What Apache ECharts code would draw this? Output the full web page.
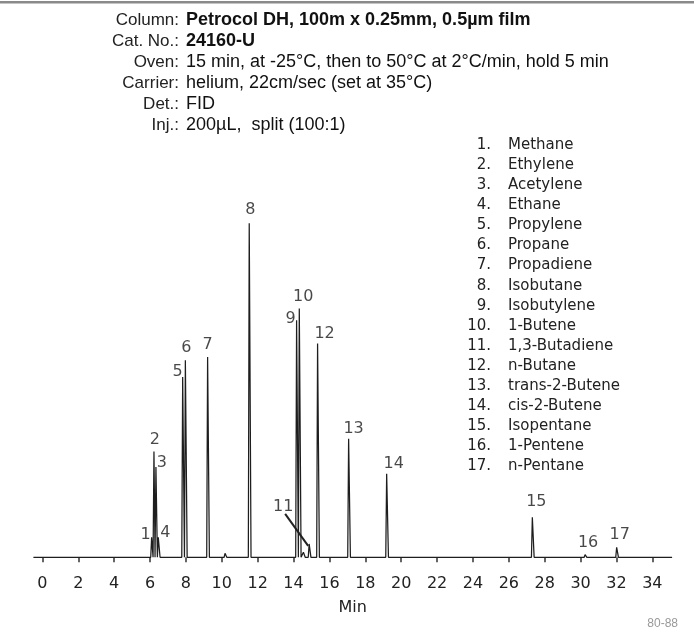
<!DOCTYPE html>
<html>
<head>
<meta charset="utf-8">
<script src="https://cdn.jsdelivr.net/npm/echarts@6/dist/echarts.min.js"></script>
<style>
  html, body { margin: 0; padding: 0; background: #fff; }
  #chart { width: 694px; height: 634px; }
</style>
</head>
<body>
<div id="chart"></div>
<script>
// peaks: number, retention time (min), relative height (isobutane = 100)
const peakNo = [1, 2, 3, 4, 5, 6, 7, 8, 9, 10, 11, 12, 13, 14, 15, 16, 17];
const retTime = [6.09, 6.22, 6.33, 6.46, 7.82, 7.97, 9.21, 11.53, 14.17, 14.32, 14.87, 15.34, 17.07, 19.19, 27.31, 30.25, 32.01];
const peakHeight = [6, 31.7, 27, 6, 54, 59, 60, 100, 71, 74.5, 4, 64, 35.5, 25, 12, 0.8, 3];
const compounds = ['Methane', 'Ethylene', 'Acetylene', 'Ethane', 'Propylene', 'Propane', 'Propadiene',
  'Isobutane', 'Isobutylene', '1-Butene', '1,3-Butadiene', 'n-Butane', 'trans-2-Butene',
  'cis-2-Butene', 'Isopentane', '1-Pentene', 'n-Pentane'];

// small unlabelled bumps on the baseline
const bumpTime = [10.18, 14.55];
const bumpHeight = [1.2, 1.5];

const tickValues = [0, 2, 4, 6, 8, 10, 12, 14, 16, 18, 20, 22, 24, 26, 28, 30, 32, 34];

const headerLabels = ['Column:', 'Cat. No.:', 'Oven:', 'Carrier:', 'Det.:', 'Inj.:'];
const headerValues = ['Petrocol DH, 100m x 0.25mm, 0.5\u00b5m film', '24160-U',
  '15 min, at -25\u00b0C, then to 50\u00b0C at 2\u00b0C/min, hold 5 min',
  'helium, 22cm/sec (set at 35\u00b0C)', 'FID', '200\u00b5L,  split (100:1)'];

// where each peak number sits relative to its peak top (px)
const labelOffset = {
  1: [-6, -2], 2: [1, -12], 3: [6, -4], 4: [7, -4], 5: [-5, -5], 6: [1, -12],
  7: [0, -12], 8: [1, -13], 9: [-6, -1], 10: [4, -12], 11: [-26, -37], 12: [7, -10],
  13: [5, -10], 14: [7, -10], 15: [4, -15], 16: [3, -12], 17: [3, -12]
};

const chartFont = 'DejaVu Sans, sans-serif';
const headFont = 'Liberation Sans, Arial, sans-serif';

// build the detector trace as narrow tailing spikes on a flat baseline
const buildTrace = () => {
  let pts = [[-0.5, 0], [35.1, 0]];
  const addPeak = (t, h) => {
    pts.push([t - 0.05, 0], [t, h], [t + 0.1, 0]);
  };
  retTime.forEach((t, i) => addPeak(t, peakHeight[i]));
  bumpTime.forEach((t, i) => addPeak(t, bumpHeight[i]));
  pts.sort((a, b) => a[0] - b[0]);
  return pts;
};

const headerGraphics = () => {
  let items = [{
    type: 'rect', shape: {x: 0, y: 1, width: 694, height: 2.5},
    style: {fill: '#8a8a8a'}
  }];
  headerLabels.forEach((lab, i) => {
    const y = 20 + i * 21;
    items.push({
      type: 'text', x: 179, y: y,
      style: {text: lab, fill: '#222', font: '17px ' + headFont, textAlign: 'right', textVerticalAlign: 'middle'}
    });
    items.push({
      type: 'text', x: 186, y: y,
      style: {
        text: headerValues[i], fill: '#111',
        font: (i < 2 ? 'bold ' : '') + '18px ' + headFont,
        textAlign: 'left', textVerticalAlign: 'middle'
      }
    });
  });
  compounds.forEach((name, i) => {
    const y = 145 + i * 20.1;
    items.push({
      type: 'text', x: 491, y: y,
      style: {text: peakNo[i] + '.', fill: '#222', font: '15px ' + chartFont, textAlign: 'right', textVerticalAlign: 'middle'}
    });
    items.push({
      type: 'text', x: 508, y: y,
      style: {text: name, fill: '#222', font: '15px ' + chartFont, textAlign: 'left', textVerticalAlign: 'middle'}
    });
  });
  items.push({
    type: 'text', x: 678, y: 624,
    style: {text: '80-88', fill: '#999', font: '12px ' + headFont, textAlign: 'right', textVerticalAlign: 'middle'}
  });
  return items;
};

let myChart = echarts.init(document.getElementById('chart'));

const option = {
  animation: false,
  backgroundColor: '#fff',
  grid: {left: 33.4, right: 21.9, top: 223.3, bottom: 76.7},
  xAxis: {
    type: 'value',
    min: -0.5,
    max: 35.1,
    offset: 5.5,
    axisLine: {show: false},
    axisTick: {show: true, length: 5, customValues: tickValues, lineStyle: {color: '#333', width: 1.5}},
    axisLabel: {customValues: tickValues, margin: 13, fontSize: 16, color: '#222', fontFamily: chartFont},
    splitLine: {show: false},
    name: 'Min',
    nameLocation: 'middle',
    nameGap: 37,
    nameTextStyle: {fontSize: 16, color: '#222', fontFamily: chartFont}
  },
  yAxis: {type: 'value', min: 0, max: 100, show: false},
  graphic: headerGraphics(),
  series: [
    {
      type: 'line',
      data: buildTrace(),
      showSymbol: false,
      lineStyle: {color: '#1e1e1e', width: 1.25},
      z: 3
    },
    {
      type: 'scatter',
      data: retTime.map((t, i) => ({
        value: [t, peakHeight[i]],
        label: {offset: labelOffset[peakNo[i]]}
      })),
      symbolSize: 0.1,
      itemStyle: {color: 'transparent'},
      clip: false,
      label: {
        show: true,
        position: 'inside',
        formatter: p => String(peakNo[p.dataIndex]),
        fontSize: 16,
        color: '#1a1a1a',
        fontFamily: chartFont
      },
      z: 4
    }
  ]
};

myChart.setOption(option);

// leader line from the "11" label down to its small peak
const i11 = peakNo.indexOf(11);
const p11 = myChart.convertToPixel({gridIndex: 0}, [retTime[i11], peakHeight[i11]]);
myChart.setOption({
  graphic: headerGraphics().concat([{
    type: 'line',
    shape: {x1: p11[0] - 24, y1: p11[1] - 30, x2: p11[0] - 1, y2: p11[1] + 2},
    style: {stroke: '#222', lineWidth: 2}
  }])
});
</script>
</body>
</html>
